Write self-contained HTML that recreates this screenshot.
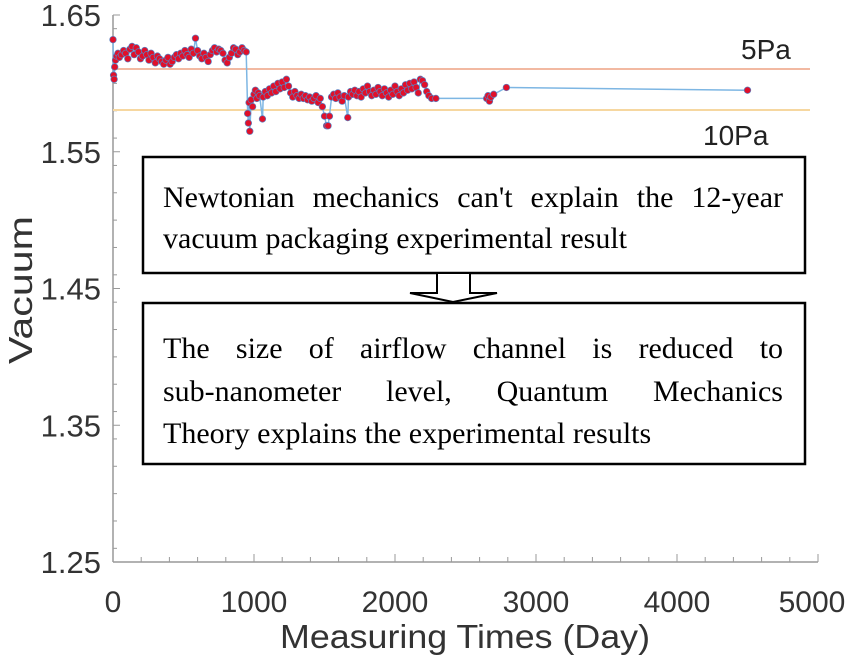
<!DOCTYPE html>
<html><head><meta charset="utf-8"><style>
html,body{margin:0;padding:0;background:#fff;overflow:hidden;}
svg{display:block;}
</style></head><body>
<svg id="chart" width="850" height="662" viewBox="0 0 850 662" xmlns="http://www.w3.org/2000/svg">
<rect width="850" height="662" fill="#fff"/>
<g id="axes"></g>
<g id="refs"></g>
<g id="series"></g>
<text x="741" y="59" font-family="Liberation Sans, sans-serif" font-size="28" fill="#222">5Pa</text>
<text x="703" y="145" font-family="Liberation Sans, sans-serif" font-size="28" fill="#222">10Pa</text>
<text transform="translate(32,290) rotate(-90)" text-anchor="middle" textLength="148" lengthAdjust="spacingAndGlyphs" font-family="Liberation Sans, sans-serif" font-size="33" fill="#333">Vacuum</text>
<text x="280" y="648" textLength="370" lengthAdjust="spacingAndGlyphs" font-family="Liberation Sans, sans-serif" font-size="33" fill="#333">Measuring Times (Day)</text>
<g>
<rect x="143" y="157" width="662" height="116" fill="#fff" stroke="#000" stroke-width="2.5"/>
<text class="just" x="163" y="207" font-family="Liberation Serif, serif" font-size="30" fill="#000">Newtonian mechanics can't explain the 12-year</text>
<text x="163" y="248" font-family="Liberation Serif, serif" font-size="30" fill="#000">vacuum packaging experimental result</text>
</g>
<g>
<polygon points="437,273 470,273 470,293 497,293 453,302 410,293 437,293" fill="#fff" stroke="#000" stroke-width="2"/>
</g>
<g>
<rect x="143" y="303" width="662" height="161" fill="#fff" stroke="#000" stroke-width="2.5"/>
<text class="just" x="163" y="358" font-family="Liberation Serif, serif" font-size="30" fill="#000">The size of airflow channel is reduced to</text>
<text class="just" x="163" y="401" font-family="Liberation Serif, serif" font-size="30" fill="#000">sub-nanometer level, Quantum Mechanics</text>
<text x="163" y="443" font-family="Liberation Serif, serif" font-size="30" fill="#000">Theory explains the experimental results</text>
</g>
</svg>
<script>
const days = [0,4,8,12,18,25,35,45,60,75,90,105,120,135,150,165,180,195,210,225,240,255,270,285,300,315,330,345,360,375,390,405,420,435,450,465,480,495,510,525,540,555,570,585,600,615,630,645,660,675,690,705,720,735,750,765,780,795,810,825,840,855,870,885,900,915,930,945,
955,960,965,970,980,990,1000,1010,1020,1030,1040,1060,1065,1080,1095,1110,1125,1140,1155,1170,1185,1200,1215,1230,1245,1260,1275,1290,1305,1320,1335,1350,1365,1380,1395,1410,1425,1440,1455,1470,1485,1500,1515,1525,1535,1550,1565,1580,1595,1610,1625,1640,1665,1670,1685,1700,1715,1730,1745,1760,1775,1790,1805,1820,1835,1850,1865,1880,1895,1910,1925,1940,1955,1970,1985,2000,2015,2030,2045,2060,2075,2090,2105,2120,2135,2150,2165,2180,2195,2210,2225,2240,2260,2290,2650,2660,2670,2680,2700,2790,4500];
const vacuum = [1.632,1.606,1.603,1.612,1.617,1.620,1.622,1.619,1.621,1.624,1.622,1.618,1.625,1.627,1.621,1.626,1.623,1.618,1.620,1.624,1.621,1.617,1.622,1.619,1.615,1.620,1.618,1.616,1.614,1.617,1.619,1.614,1.616,1.619,1.621,1.618,1.622,1.620,1.624,1.621,1.619,1.625,1.622,1.633,1.624,1.620,1.618,1.622,1.619,1.616,1.621,1.624,1.626,1.623,1.625,1.624,1.622,1.617,1.615,1.619,1.622,1.626,1.625,1.621,1.623,1.626,1.624,1.623,
1.578,1.571,1.586,1.565,1.588,1.583,1.592,1.595,1.589,1.593,1.591,1.574,1.590,1.594,1.591,1.596,1.593,1.598,1.594,1.600,1.596,1.601,1.597,1.603,1.598,1.593,1.590,1.594,1.591,1.589,1.592,1.589,1.591,1.588,1.590,1.587,1.589,1.591,1.586,1.589,1.583,1.576,1.569,1.569,1.576,1.590,1.592,1.589,1.593,1.590,1.587,1.591,1.575,1.590,1.594,1.592,1.595,1.591,1.594,1.590,1.596,1.593,1.598,1.594,1.591,1.595,1.592,1.597,1.594,1.591,1.596,1.593,1.590,1.595,1.592,1.598,1.594,1.591,1.596,1.593,1.599,1.595,1.600,1.596,1.601,1.597,1.593,1.603,1.602,1.599,1.594,1.591,1.589,1.589,1.589,1.591,1.587,1.590,1.592,1.597,1.595];
const refValues = [1.6105, 1.5805];
const refColors = ['#f2b9a2', '#f6d7a0'];
const xTicks = [0,1000,2000,3000,4000,5000];
const yTicks = [1.25,1.35,1.45,1.55,1.65];

const NS = 'http://www.w3.org/2000/svg';
const X0 = 113, X1 = 818, Y0 = 562, Y1 = 15;
function xs(d){ return X0 + (d - 0) / 5000 * (X1 - X0); }
function ys(v){ return Y0 - (v - 1.25) / 0.4 * (Y0 - Y1); }
function mk(tag, attrs, parent){
  const e = document.createElementNS(NS, tag);
  for (const k in attrs) e.setAttribute(k, attrs[k]);
  parent.appendChild(e); return e;
}
const axes = document.getElementById('axes');
let el = mk('line', {x1:X0, y1:Y0, x2:X1, y2:Y0, stroke:'#999', 'stroke-width':1.5}, axes);


el = mk('line', {x1:X0, y1:Y0, x2:X0, y2:Y1, stroke:'#999', 'stroke-width':1.5}, axes);


for (let d = 0; d <= 5000; d += 200) {
  const major = d % 1000 === 0;
  el = mk('line', {x1:xs(d), y1:Y0, x2:xs(d), y2:Y0 - (major ? 8 : 5), stroke:'#999', 'stroke-width':1}, axes);
  
  
}
for (let i = 126; i <= 164; i += 2) {
  const v = i / 100;
  el = mk('line', {x1:X0, y1:ys(v), x2:X0 + 4, y2:ys(v), stroke:'#999', 'stroke-width':1}, axes);
  
  
}
xTicks.forEach(t => {
  el = mk('text', {x:Math.min(xs(t), 812), y:612, 'text-anchor':'middle', 'font-family':'Liberation Sans, sans-serif', 'font-size':30, fill:'#333'}, axes);
  el.textContent = t;
  
  
});
yTicks.forEach(t => {
  el = mk('line', {x1:X0, y1:ys(t), x2:X0 + 7, y2:ys(t), stroke:'#999', 'stroke-width':1}, axes);
  
  
  el = mk('text', {x:101, y:ys(t) + 11, 'text-anchor':'end', 'font-family':'Liberation Sans, sans-serif', 'font-size':31, fill:'#333'}, axes);
  el.textContent = t.toFixed(2);
  
  
});
const refs = document.getElementById('refs');
refValues.forEach((v, i) => {
  el = mk('line', {x1:X0, y1:ys(v), x2:810, y2:ys(v), stroke:refColors[i], 'stroke-width':2}, refs);
  
  
});
const series = document.getElementById('series');
el = mk('polyline', {points: days.map((d, i) => xs(d).toFixed(1) + ',' + ys(vacuum[i]).toFixed(1)).join(' '), fill:'none', stroke:'#7db6e3', 'stroke-width':1.5}, series);


days.forEach((d, i) => {
  el = mk('circle', {cx:xs(d), cy:ys(vacuum[i]), r:3.3, fill:'#e0102a', stroke:'#5a7fc0', 'stroke-width':0.7}, series);
  
  
});
// justify text lines by word spacing
document.querySelectorAll('text.just').forEach(t => {
  const words = t.textContent.trim().split(/\s+/);
  const x0 = 163, x1 = 783;
  t.textContent = '';
  const spans = words.map(w => { const s = mk('tspan', {}, t); s.textContent = w; return s; });
  const widths = spans.map(s => s.getComputedTextLength());
  const total = widths.reduce((a, b) => a + b, 0);
  const gap = (x1 - x0 - total) / (words.length - 1);
  let x = x0;
  spans.forEach((s, i) => { s.setAttribute('x', x.toFixed(1)); x += widths[i] + gap; });
});
</script>
</body></html>
